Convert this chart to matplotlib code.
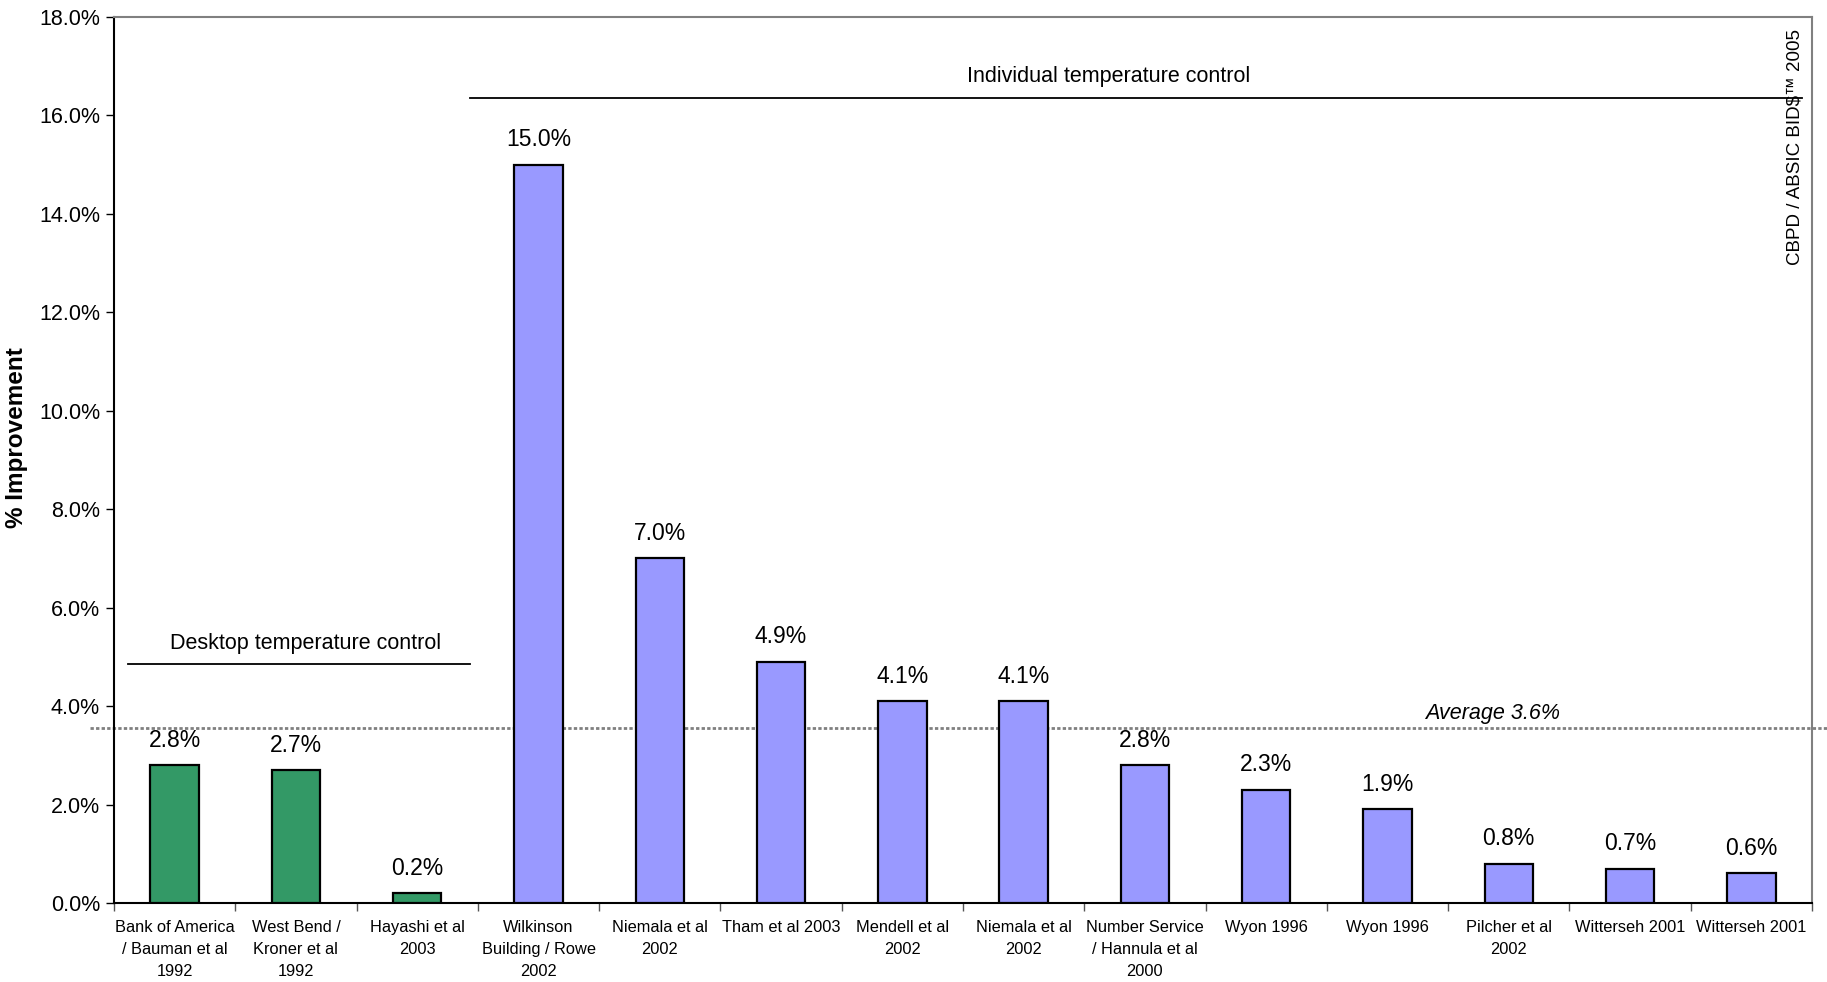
import numpy as np
import matplotlib
matplotlib.use('Agg')
import matplotlib.pyplot as plt
from matplotlib.ticker import FuncFormatter, FixedLocator

plt.rcParams['font.family'] = ['Liberation Sans', 'DejaVu Sans']

studies = [
    "Bank of America\n/ Bauman et al\n1992",
    "West Bend /\nKroner et al\n1992",
    "Hayashi et al\n2003",
    "Wilkinson\nBuilding / Rowe\n2002",
    "Niemala et al\n2002",
    "Tham et al 2003",
    "Mendell et al\n2002",
    "Niemala et al\n2002",
    "Number Service\n/ Hannula et al\n2000",
    "Wyon 1996",
    "Wyon 1996",
    "Pilcher et al\n2002",
    "Witterseh 2001",
    "Witterseh 2001",
]
improvement = [2.8, 2.7, 0.2, 15.0, 7.0, 4.9, 4.1, 4.1, 2.8, 2.3, 1.9, 0.8, 0.7, 0.6]
n_desktop = 3  # first three studies are desktop control
average = np.mean(improvement)

green = '#339966'
lilac = '#9999ff'

fig = plt.figure(figsize=(18.27, 9.82), dpi=100)
ax = fig.add_axes([114/1827, 79/982, 1698/1827, 886/982])

x = np.arange(len(improvement))
colors = [green if i < n_desktop else lilac for i in x]
bars = ax.bar(x, improvement, width=0.4, color=colors, edgecolor='black', linewidth=1.6, zorder=3)

for b, v in zip(bars, improvement):
    ax.annotate(f"{v:.1f}%", (b.get_x() + b.get_width()/2, v), xytext=(0, 18),
                textcoords='offset points', ha='center', va='center', fontsize=16.5)

ax.set_xlim(-0.5, len(improvement) - 0.5)
ax.set_ylim(0, 18)
ax.yaxis.set_major_locator(FixedLocator(np.arange(0, 18.1, 2)))
ax.yaxis.set_major_formatter(FuncFormatter(lambda v, p: f"{v:.1f}%"))
ax.tick_params(axis='y', labelsize=15.5, length=6, width=1, direction='out', pad=4)

# boundaries get the tick marks, centres carry the names
ax.set_xticks(np.arange(-0.5, len(improvement) + 0.5, 1))
ax.set_xticklabels([])
ax.tick_params(axis='x', which='major', length=6, width=1, direction='out', color='#555555')
ax.set_xticks(x, minor=True)
ax.set_xticklabels(studies, minor=True, fontsize=11.8, linespacing=1.6)
ax.tick_params(axis='x', which='minor', length=0, pad=12)

for side in ['top', 'right']:
    ax.spines[side].set_color('#808080')
    ax.spines[side].set_linewidth(1.5)
for side in ['left', 'bottom']:
    ax.spines[side].set_linewidth(1.5)

fig.text(17/1827, 1 - 438/982, '% Improvement', rotation=90, fontsize=17.5,
         fontweight='bold', ha='center', va='center')

# average line
ax.plot([-0.7, 14.6], [average, average], color='#808080', linestyle=(0, (1.2, 0.8)),
        linewidth=2, clip_on=False, zorder=2)
ax.text(10.87, average + 0.28, f"Average {average:.1f}%", fontsize=15.5, style='italic',
        ha='center', va='center')

# group brackets
ax.plot([-0.385, 2.435], [4.85, 4.85], color='black', linewidth=1.3, clip_on=False)
ax.text(1.08, 5.28, "Desktop temperature control", fontsize=15.5, ha='center', va='center')
ax.plot([2.435, 13.42], [16.35, 16.35], color='black', linewidth=1.3, clip_on=False)
ax.text(7.70, 16.8, "Individual temperature control", fontsize=15.5, ha='center', va='center')

fig.text(1795/1827, 1 - 147/982, "CBPD / ABSIC BID$\u2122 2005", rotation=90,
         fontsize=13.5, ha='center', va='center')

fig.savefig('out.png', dpi=100)
